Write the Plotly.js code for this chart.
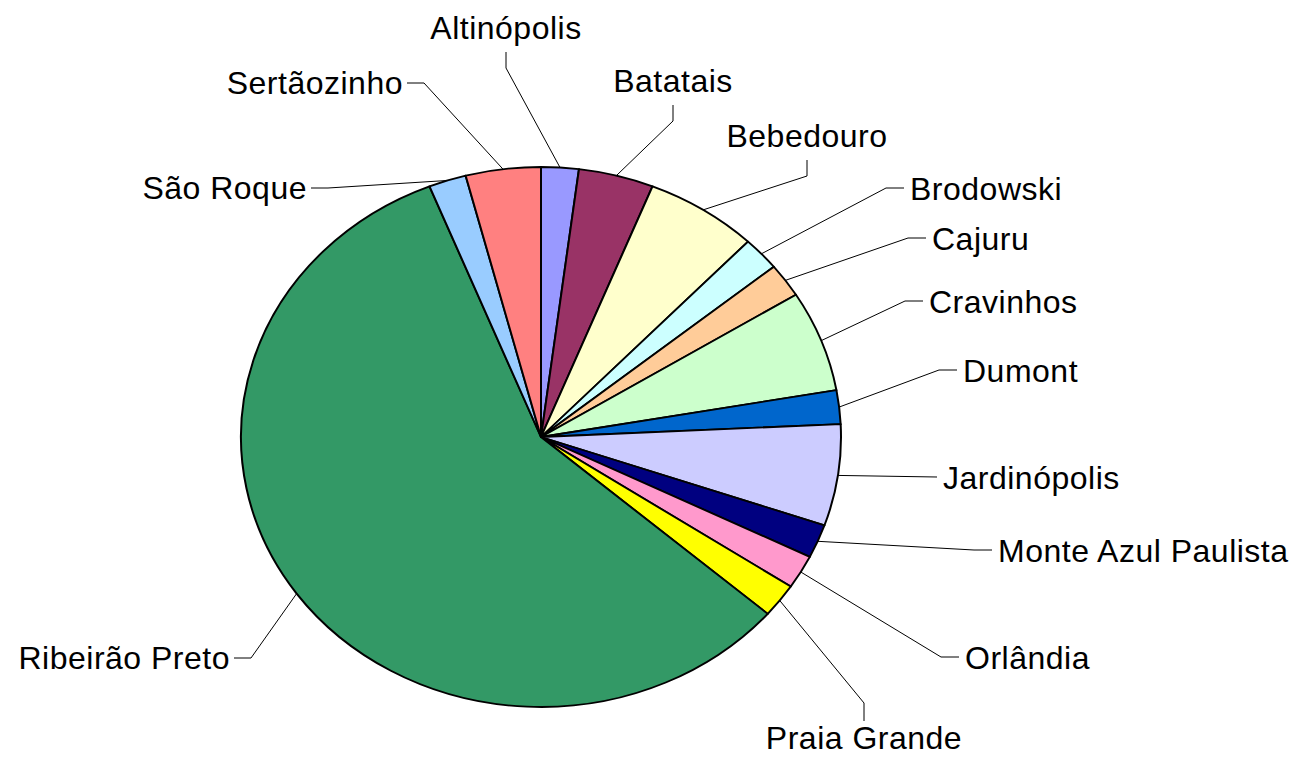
<!DOCTYPE html>
<html>
<head>
<meta charset="utf-8">
<script src="https://cdn.plot.ly/plotly-3.0.1.min.js"></script>
<style>
  html, body { margin: 0; padding: 0; background: #fff; }
  #chart { width: 1291px; height: 760px; }
  .textpoint text { letter-spacing: 0.5px; }
</style>
</head>
<body>
<div id="chart"></div>
<script>
// ---- data ----
const cities = ['Altinópolis', 'Batatais', 'Bebedouro', 'Brodowski', 'Cajuru', 'Cravinhos', 'Dumont',
  'Jardinópolis', 'Monte Azul Paulista', 'Orlândia', 'Praia Grande', 'Ribeirão Preto', 'São Roque', 'Sertãozinho'];
const counts = [2, 4, 6, 2, 2, 6, 2, 6, 2, 2, 2, 57, 2, 4];
const sliceColors = ['#9999FF', '#993366', '#FFFFCC', '#CCFFFF', '#FFCC99', '#CCFFCC', '#0066CC',
  '#CCCCFF', '#000080', '#FF99CC', '#FFFF00', '#339966', '#99CCFF', '#FF8080'];

// ---- layout geometry (pixels) ----
const W = 1291, H = 760;
const CX = 541, CY = 437, RX = 300, RY = 270;
const SQUASH = RY / RX;
const TEXT_DY = 2;
// label text anchor positions and which side of the leader line the text sits on
const labelPos = [
  [506, 29, 'top'], [673, 82, 'top'], [807, 137, 'top'], [910, 190, 'right'],
  [932, 240, 'right'], [929, 303, 'right'], [963, 372, 'right'], [943, 479, 'right'],
  [998, 552, 'right'], [965, 659, 'right'], [864, 741, 'bottom'], [230, 659, 'left'],
  [307, 189, 'left'], [403, 84, 'left']
];

const total = counts.reduce((a, b) => a + b, 0);
const traces = [];

traces.push({
  type: 'pie',
  labels: cities,
  values: counts,
  sort: false,
  direction: 'clockwise',
  rotation: 0,
  textinfo: 'none',
  hoverinfo: 'label+value+percent',
  marker: { colors: sliceColors, line: { color: '#000000', width: 2 } },
  domain: { x: [(CX - RX) / W, (CX + RX) / W], y: [(H - CY - RX) / H, (H - CY + RX) / H] },
  showlegend: false
});

// leader lines: from slice edge at mid-angle to an elbow and then to the label
let cum = 0;
const textX = [], textY = [], textPos = [];
cities.forEach((name, i) => {
  const mid = (cum + counts[i] / 2) / total * 2 * Math.PI;
  cum += counts[i];
  const ex = CX + RX * Math.sin(mid);
  const ey = CY - RY * Math.cos(mid);
  const [lx, ly, side] = labelPos[i];
  let ax, ay, bx, by, tp, dy = TEXT_DY;
  if (side === 'top') { ax = lx; ay = ly + 23; bx = lx; by = ly + 39; tp = 'middle center'; }
  else if (side === 'bottom') { ax = lx; ay = ly - 20; bx = lx; by = ly - 38; tp = 'middle center'; dy = 0; }
  else if (side === 'right') { ax = lx - 6; ay = ly - 2; bx = lx - 24; by = ly - 2; tp = 'middle right'; }
  else { ax = lx + 4; ay = ly - 1; bx = lx + 21; by = ly - 1; tp = 'middle left'; }
  traces.push({
    type: 'scatter', mode: 'lines', x: [ex, bx, ax], y: [ey, by, ay],
    line: { color: '#000000', width: 1 }, hoverinfo: 'skip', showlegend: false,
    xaxis: 'x', yaxis: 'y'
  });
  textX.push(lx); textY.push(ly + dy); textPos.push(tp);
});

traces.push({
  type: 'scatter', mode: 'text', x: textX, y: textY, text: cities, textposition: textPos,
  textfont: { family: 'Liberation Sans, Arial, sans-serif', size: 32, color: '#000000' },
  hoverinfo: 'skip', showlegend: false, cliponaxis: false
});

const layout = {
  width: W, height: H,
  margin: { l: 0, r: 0, t: 0, b: 0 },
  paper_bgcolor: '#ffffff', plot_bgcolor: 'rgba(0,0,0,0)',
  showlegend: false,
  xaxis: { range: [0, W], visible: false, fixedrange: true },
  yaxis: { range: [H, 0], visible: false, fixedrange: true }
};

function squashPie() {
  const pl = document.querySelector('#chart .pielayer');
  if (pl) pl.setAttribute('transform', 'translate(0,' + (CY * (1 - SQUASH)) + ') scale(1,' + SQUASH + ')');
}

Plotly.newPlot('chart', traces, layout, { displayModeBar: false, staticPlot: true }).then(gd => {
  squashPie();
  gd.on('plotly_afterplot', squashPie);
});
</script>
</body>
</html>
